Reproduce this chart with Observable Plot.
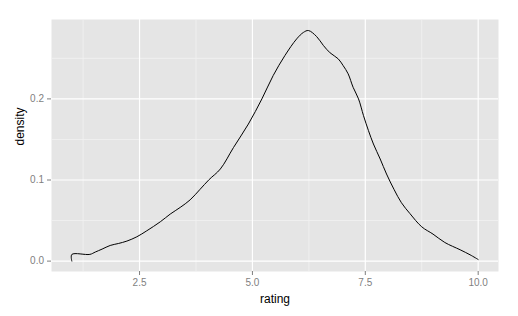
<!DOCTYPE html>
<html>
<head>
<meta charset="utf-8">
<script src="https://cdn.jsdelivr.net/npm/d3@7"></script>
<script src="https://cdn.jsdelivr.net/npm/@observablehq/plot@0.6"></script>
<style>
  html, body { margin: 0; padding: 0; background: #ffffff; }
  #chart svg { display: block; }
</style>
</head>
<body>
<div id="chart"></div>
<script>
const rating = [1, 1, 1.40, 1.52, 1.67, 1.85, 2.03, 2.22, 2.44, 2.66, 2.96, 3.18, 3.40, 3.62, 3.84, 4.04, 4.29, 4.58, 4.91, 5.21, 5.46, 5.72, 5.98, 6.13, 6.24, 6.42, 6.57, 6.72, 6.90, 7.01, 7.12, 7.23, 7.35, 7.46, 7.57, 7.68, 7.83, 7.97, 8.14, 8.30, 8.49, 8.75, 9.00, 9.26, 9.60, 9.82, 10.0];
const density = [0, 0.0082, 0.0083, 0.0112, 0.0148, 0.0193, 0.0217, 0.0247, 0.030, 0.0374, 0.0485, 0.058, 0.0662, 0.0755, 0.0885, 0.1005, 0.1136, 0.140, 0.169, 0.200, 0.2288, 0.2535, 0.274, 0.282, 0.2843, 0.277, 0.266, 0.2568, 0.2494, 0.241, 0.2309, 0.2143, 0.200, 0.1794, 0.1609, 0.1444, 0.1259, 0.1074, 0.088, 0.072, 0.0585, 0.0423, 0.0333, 0.023, 0.014, 0.0078, 0.002];

const xTicks = [2.5, 5.0, 7.5, 10.0];
const xMinor = [1.25, 3.75, 6.25, 8.75];
const yTicks = [0.0, 0.1, 0.2];
const yMinor = [0.05, 0.15, 0.25];
const xTitle = "rating";
const yTitle = "density";

const data = rating.map((r, i) => ({rating: r, density: density[i]}));

const grey = "#7F7F7F";
const chart = Plot.plot({
  width: 518,
  height: 316,
  marginLeft: 51,
  marginRight: 20,
  marginTop: 19,
  marginBottom: 45,
  style: {fontFamily: "'Liberation Sans', Arial, sans-serif", fontSize: "10px", background: "#ffffff"},
  x: {domain: [0.55, 10.45]},
  y: {domain: [-0.0128, 0.2979]},
  marks: [
    Plot.frame({fill: "#E5E5E5", stroke: "none"}),
    Plot.ruleX(xMinor, {stroke: "#F2F2F2", strokeWidth: 0.8}),
    Plot.ruleY(yMinor, {stroke: "#F2F2F2", strokeWidth: 0.8}),
    Plot.ruleX(xTicks, {stroke: "#ffffff", strokeWidth: 1.2}),
    Plot.ruleY(yTicks, {stroke: "#ffffff", strokeWidth: 1.2}),
    Plot.line(data, {x: "rating", y: "density", stroke: "#000000", strokeWidth: 1, curve: "catmull-rom"}),
    Plot.axisX({ticks: xTicks, tickFormat: d3.format(".1f"), tickSize: 4, tickPadding: 3, stroke: grey, fill: grey, label: null}),
    Plot.axisY({ticks: yTicks, tickFormat: d3.format(".1f"), tickSize: 4, tickPadding: 3.5, stroke: grey, fill: grey, label: null}),
    Plot.text([xTitle], {frameAnchor: "bottom", dy: 31, fontSize: 12, fill: "#000000", text: d => d}),
    Plot.text([yTitle], {frameAnchor: "left", dx: -31, rotate: -90, fontSize: 12, fill: "#000000", text: d => d})
  ]
});
document.getElementById("chart").appendChild(chart);
</script>
</body>
</html>
